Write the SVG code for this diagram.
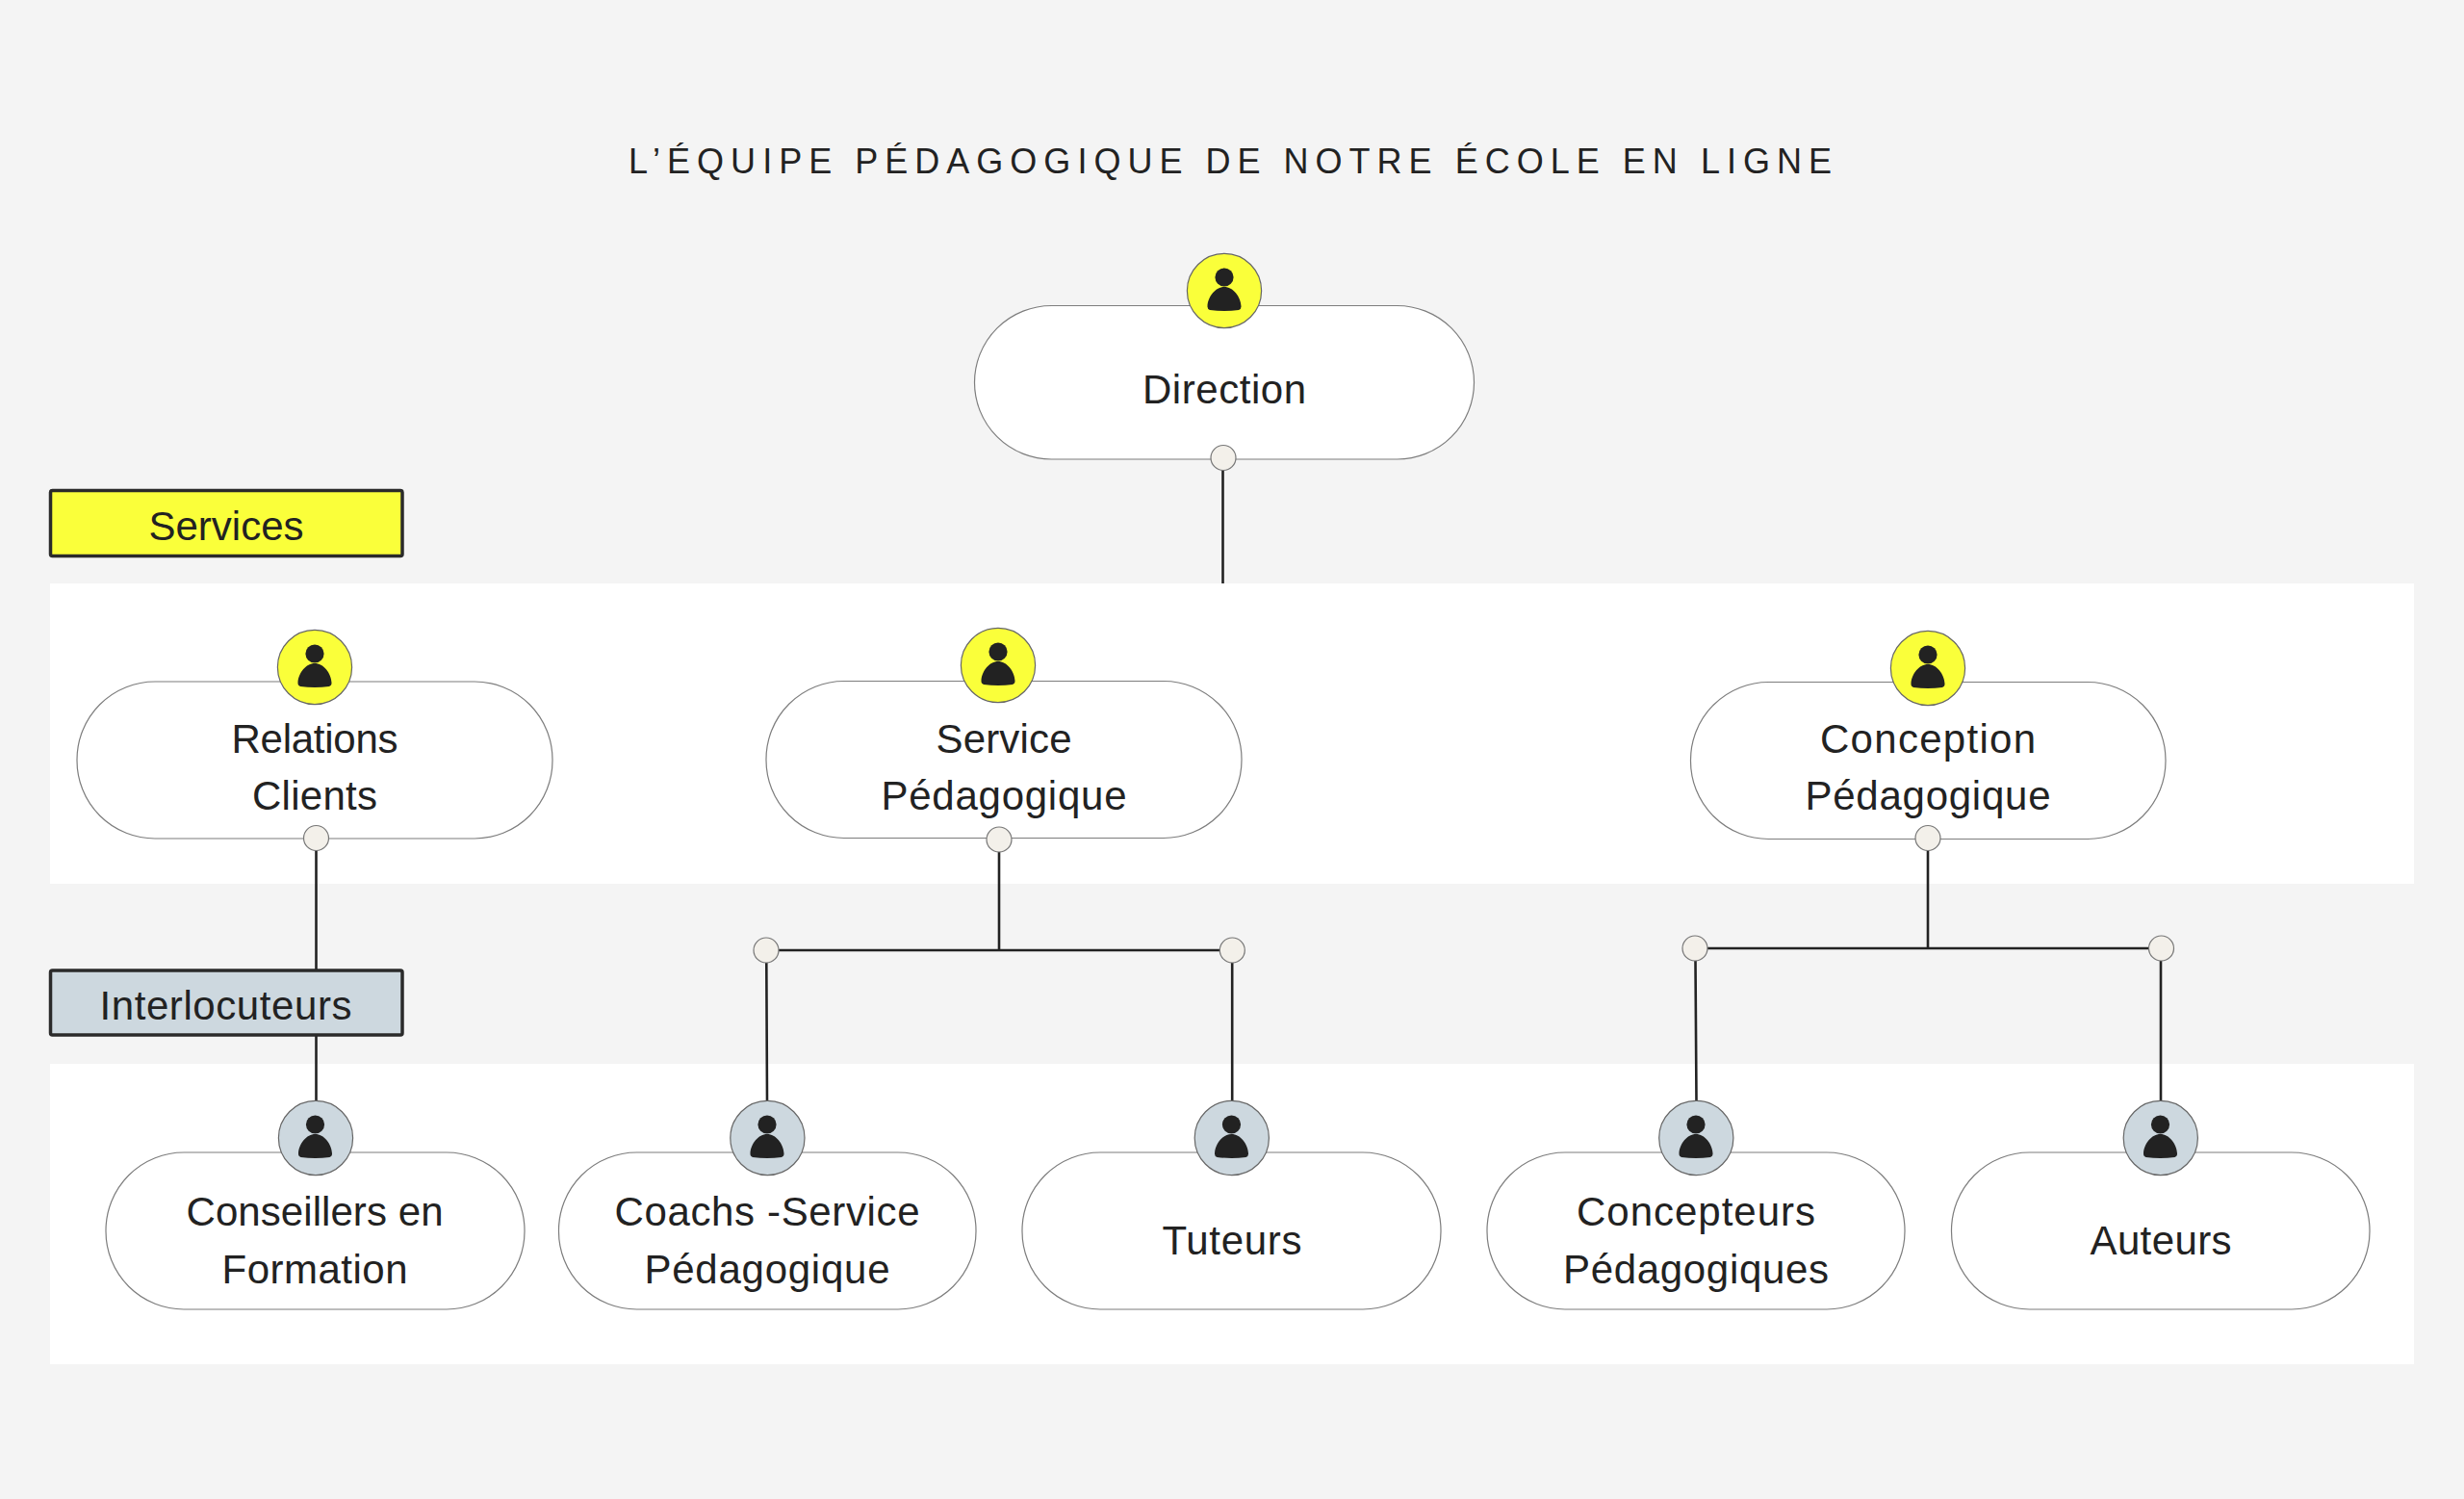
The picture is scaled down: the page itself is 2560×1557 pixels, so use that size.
<svg xmlns="http://www.w3.org/2000/svg" width="2560" height="1557" viewBox="0 0 2560 1557">
<style>
text{font-family:"Liberation Sans",Arial,sans-serif;fill:#222;font-size:42px;text-anchor:middle}
.title{font-size:36px}
.band{fill:#fff}
.pill{fill:#fff;stroke:#7d7d7d;stroke-width:1.2}
.y{fill:#faff3a;stroke:#666;stroke-width:1.2}
.b{fill:#cdd8df;stroke:#666;stroke-width:1.2}
.dot{fill:#f3f0ea;stroke:#777;stroke-width:1.2}
.tag{stroke:#2a2a2a;stroke-width:3.5}
.wire{fill:none;stroke:#222;stroke-width:2.6}
</style>
<defs>
<g id="person"><circle cx="0" cy="-14" r="9.6" fill="#222"/><path d="M-17.5 16C-17 6-9-4 0-4S17 6 17.5 16Q17.8 19 15 19.9Q0 21.9-15 19.9Q-17.8 19-17.5 16Z" fill="#222"/></g>
</defs>
<rect width="2560" height="1557" fill="#f4f4f4"/>
<text class="title" x="1278" y="180" textLength="1250">L’ÉQUIPE PÉDAGOGIQUE DE NOTRE ÉCOLE EN LIGNE</text>
<rect class="band" x="52" y="606" width="2456" height="312"/>
<rect class="band" x="52" y="1105" width="2456" height="312"/>
<g id="connectors">
<path class="wire" d="M1270.5 488V606"/>
<path class="wire" d="M328.5 883V1144"/>
<path class="wire" d="M1038 884V987M796 987H1280M796.3 1000L797 1144M1280.2 1000V1144"/>
<path class="wire" d="M2003 883V985M1761 985H2245M1761.5 998L1762.5 1144M2245 998V1144"/>
</g>
<g id="tag-services"><rect class="tag" x="52.5" y="509.5" width="365.5" height="68" rx="2" fill="#faff3a"/><text x="235" y="561" textLength="161">Services</text></g>
<g id="tag-interlocuteurs"><rect class="tag" x="52.5" y="1008" width="365.5" height="67" rx="2" fill="#cdd8df"/><text x="234.5" y="1059" textLength="262">Interlocuteurs</text></g>
<g id="direction"><rect class="pill" x="1012.5" y="317.5" width="519" height="159.5" rx="80"/><circle class="y" cx="1272" cy="302" r="38.6"/><use href="#person" x="1272" y="302"/><text x="1272" y="419" textLength="170">Direction</text><circle class="dot" cx="1271" cy="475.5" r="13"/></g>
<g id="relations"><rect class="pill" x="80" y="708" width="494" height="163" rx="81"/><circle class="y" cx="327" cy="693" r="38.6"/><use href="#person" x="327" y="693"/><text x="327" y="782" textLength="173">Relations</text><text x="327" y="841" textLength="130">Clients</text><circle class="dot" cx="328.5" cy="870.5" r="13"/></g>
<g id="service"><rect class="pill" x="796" y="707.5" width="494" height="163" rx="81"/><circle class="y" cx="1037" cy="691" r="38.6"/><use href="#person" x="1037" y="691"/><text x="1043" y="782" textLength="141">Service</text><text x="1043" y="841" textLength="255">Pédagogique</text><circle class="dot" cx="1038" cy="872" r="13"/></g>
<g id="conception"><rect class="pill" x="1756.5" y="708.5" width="493.5" height="163" rx="81"/><circle class="y" cx="2003" cy="694" r="38.6"/><use href="#person" x="2003" y="694"/><text x="2003" y="782" textLength="224">Conception</text><text x="2003" y="841" textLength="255">Pédagogique</text><circle class="dot" cx="2003" cy="870.5" r="13"/></g>
<circle id="j1" class="dot" cx="796" cy="987" r="13"/>
<circle id="j2" class="dot" cx="1280.3" cy="987" r="13"/>
<circle id="j3" class="dot" cx="1761" cy="985" r="13"/>
<circle id="j4" class="dot" cx="2245.5" cy="985" r="13"/>
<g id="conseillers"><rect class="pill" x="110" y="1197" width="435" height="163" rx="81"/><circle class="b" cx="328" cy="1182" r="38.6"/><use href="#person" x="327.5" y="1182"/><text x="327" y="1273" textLength="267">Conseillers en</text><text x="327" y="1333" textLength="193">Formation</text></g>
<g id="coachs"><rect class="pill" x="580.5" y="1197" width="433.5" height="163" rx="81"/><circle class="b" cx="797.4" cy="1182" r="38.6"/><use href="#person" x="797" y="1182"/><text x="797" y="1273" textLength="317">Coachs -Service</text><text x="797" y="1333" textLength="255">Pédagogique</text></g>
<g id="tuteurs"><rect class="pill" x="1062" y="1197" width="435" height="163" rx="81"/><circle class="b" cx="1279.8" cy="1182" r="38.6"/><use href="#person" x="1279.5" y="1182"/><text x="1280" y="1303" textLength="145">Tuteurs</text></g>
<g id="concepteurs"><rect class="pill" x="1545" y="1197" width="434" height="163" rx="81"/><circle class="b" cx="1762.3" cy="1182" r="38.6"/><use href="#person" x="1762" y="1182"/><text x="1762" y="1273" textLength="248">Concepteurs</text><text x="1762" y="1333" textLength="276">Pédagogiques</text></g>
<g id="auteurs"><rect class="pill" x="2027.5" y="1197" width="434.5" height="163" rx="81"/><circle class="b" cx="2244.8" cy="1182" r="38.6"/><use href="#person" x="2244.5" y="1182"/><text x="2245" y="1303" textLength="147">Auteurs</text></g>
</svg>
